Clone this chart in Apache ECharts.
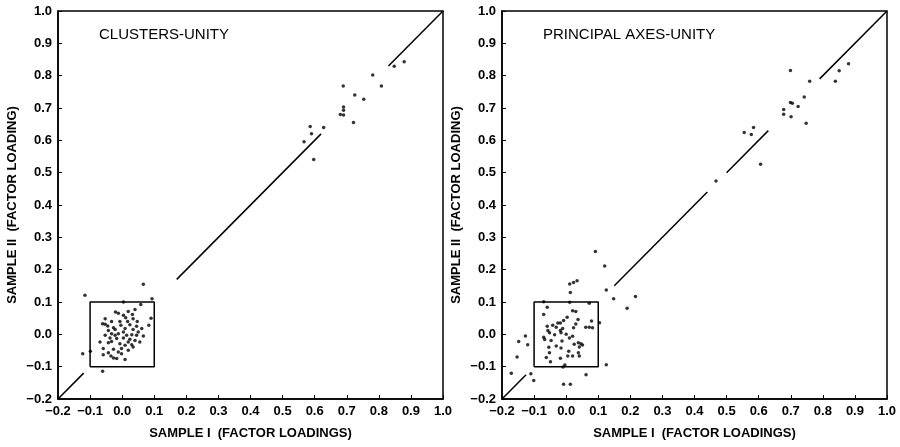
<!DOCTYPE html>
<html><head><meta charset="utf-8">
<script src="https://cdn.jsdelivr.net/npm/echarts@6/dist/echarts.min.js"></script>
<style>html,body{margin:0;padding:0;background:#fff}#c{width:900px;height:447px}</style>
</head><body><div id="c"></div><script>
const panelTitles = ['CLUSTERS-UNITY', 'PRINCIPAL AXES-UNITY'];
const xAxisTitle = 'SAMPLE I  (FACTOR LOADINGS)';
const yAxisTitle = 'SAMPLE II  (FACTOR LOADING)';
const axisMin = -0.2, axisMax = 1.0, axisStep = 0.1;
const boxLow = -0.1, boxHigh = 0.1;
// y = x reference line, drawn as segments [from, to]
const leftDiagonal = [[-0.2, -0.12], [0.17, 0.62], [0.83, 1.0]];
const rightDiagonal = [[-0.2, -0.125], [0.15, 0.44], [0.50, 0.63], [0.79, 1.0]];

const leftPoints = [
 [0.848,0.829],[0.879,0.843],[0.781,0.802],[0.808,0.768],[0.689,0.768],[0.725,0.740],[0.753,0.727],[0.690,0.703],[0.690,0.693],[0.680,0.680],[0.690,0.678],[0.721,0.655],[0.586,0.643],[0.628,0.640],[0.590,0.620],[0.567,0.596],[0.597,0.541],
 [0.066,0.155],[-0.116,0.121],[0.093,0.110],[-0.123,-0.060],[-0.099,-0.052],[-0.061,-0.114],[0.090,0.050],[0.083,0.028],
 [0.004,0.100],[0.058,0.092],[0.040,0.077],[0.019,0.071],[-0.021,0.069],[-0.012,0.065],[0.004,0.059],[0.032,0.061],[0.011,0.051],[0.034,0.048],[-0.033,0.040],[0.017,0.040],[0.047,0.040],[-0.061,0.033],[-0.053,0.031],[-0.004,0.028],[0.024,0.030],[0.045,0.025],[-0.027,0.020],[-0.022,0.015],[-0.043,0.012],[0.009,0.018],[0.034,0.015],[0.050,0.007],[-0.033,0.002],[-0.053,-0.003],[-0.012,0.002],[0.014,-0.003],[0.030,-0.001],[-0.038,-0.011],[-0.017,-0.013],[0.004,-0.011],[0.024,-0.015],[0.040,-0.019],[0.055,-0.024],[-0.069,-0.024],[-0.043,-0.026],[-0.007,-0.029],[0.009,-0.034],[0.030,-0.032],[-0.059,-0.044],[-0.027,-0.046],[-0.002,-0.044],[0.019,-0.049],[-0.012,-0.055],[-0.043,-0.057],[-0.059,-0.063],[-0.035,-0.067],[-0.027,-0.073],[-0.017,-0.075],[0.009,-0.078],[-0.007,0.040],[-0.045,0.026],[0.004,0.007],[0.019,-0.024],[0.045,-0.003],[-0.022,-0.003],[-0.002,-0.060],[0.034,-0.039],[-0.033,-0.022],[0.061,0.018],[-0.053,0.048],[0.066,-0.005]
];

const rightPoints = [
 [0.880,0.837],[0.851,0.815],[0.839,0.783],[0.699,0.816],[0.759,0.783],[0.742,0.734],[0.699,0.717],[0.705,0.715],[0.723,0.705],[0.678,0.695],[0.678,0.681],[0.701,0.673],[0.748,0.653],[0.555,0.624],[0.584,0.640],[0.577,0.618],[0.606,0.526],[0.467,0.474],
 [0.091,0.256],[0.120,0.211],[0.011,0.156],[0.023,0.160],[0.034,0.166],[0.013,0.129],[0.125,0.137],[0.148,0.110],[0.190,0.081],[0.216,0.117],[0.125,-0.094],[0.062,-0.125],[-0.008,-0.154],[0.013,-0.154],[-0.101,-0.143],[-0.110,-0.122],[-0.171,-0.120],[-0.153,-0.070],[-0.148,-0.022],[-0.127,-0.005],[-0.120,-0.032],[-0.070,0.101],[0.011,0.099],[0.072,0.096],[-0.010,-0.101],[0.104,0.036],
 [-0.059,0.084],[0.020,0.073],[0.030,0.071],[-0.070,0.061],[0.003,0.053],[0.037,0.046],[0.079,0.041],[-0.026,0.035],[-0.018,0.035],[-0.008,0.043],[-0.042,0.028],[-0.059,0.025],[-0.031,0.022],[0.030,0.032],[0.061,0.022],[0.072,0.022],[0.082,0.020],[-0.011,0.018],[-0.018,0.012],[-0.057,0.012],[-0.052,0.005],[0.023,0.020],[0.000,0.000],[-0.016,0.005],[-0.036,-0.001],[-0.070,-0.009],[-0.067,-0.016],[-0.047,-0.019],[0.010,-0.011],[0.020,-0.006],[-0.013,-0.021],[0.038,-0.026],[0.046,-0.029],[0.051,-0.033],[0.041,-0.039],[0.025,-0.031],[-0.031,-0.036],[-0.054,-0.040],[0.008,-0.052],[-0.016,-0.042],[0.038,-0.057],[-0.052,-0.057],[-0.062,-0.072],[0.005,-0.067],[0.020,-0.067],[-0.018,-0.074],[0.041,-0.067],[-0.049,-0.085],[-0.004,-0.095]
];

const FONT = '"Liberation Sans", Arial, sans-serif';
const fmt = v => (v < -1e-9 ? '\u2212' : '') + Math.abs(v).toFixed(1);
const gridLefts = [58, 502];

const grids = gridLefts.map(l => ({left: l, top: 11, width: 385, height: 388, show: true, borderColor: '#000', borderWidth: 1.5}));
const axisCommon = {
  type: 'value', min: axisMin, max: axisMax, interval: axisStep,
  splitLine: {show: false},
  axisLine: {show: true, onZero: false, lineStyle: {color: '#000', width: 1.5}},
  axisTick: {show: true, inside: true, length: 4, lineStyle: {color: '#000', width: 1}},
};
const xAxes = [0, 1].map(i => Object.assign({}, axisCommon, {
  gridIndex: i, name: xAxisTitle, nameLocation: 'middle', nameGap: 28,
  nameTextStyle: {color: '#000', fontFamily: FONT, fontSize: 13, fontWeight: 'bold'},
  axisLabel: {color: '#000', fontFamily: FONT, fontSize: 13, fontWeight: 'bold', margin: 6, formatter: fmt}
}));
const yAxes = [0, 1].map(i => Object.assign({}, axisCommon, {
  gridIndex: i, name: yAxisTitle, nameLocation: 'middle', nameGap: 39,
  nameTextStyle: {color: '#000', fontFamily: FONT, fontSize: 13, fontWeight: 'bold'},
  axisLabel: {color: '#000', fontFamily: FONT, fontSize: 13, fontWeight: 'bold', margin: 6, formatter: fmt}
}));

const series = [];
[leftDiagonal, rightDiagonal].forEach((segs, i) => {
  segs.forEach(s => series.push({
    type: 'line', xAxisIndex: i, yAxisIndex: i, data: [[s[0], s[0]], [s[1], s[1]]],
    showSymbol: false, silent: true, lineStyle: {color: '#000', width: 1.5}
  }));
  series.push({
    type: 'line', xAxisIndex: i, yAxisIndex: i, showSymbol: false, silent: true,
    data: [[boxLow, boxLow], [boxHigh, boxLow], [boxHigh, boxHigh], [boxLow, boxHigh], [boxLow, boxLow]],
    lineStyle: {color: '#000', width: 1.5}
  });
});
[leftPoints, rightPoints].forEach((pts, i) => series.push({
  type: 'scatter', xAxisIndex: i, yAxisIndex: i, data: pts, symbol: 'circle', symbolSize: 3.5,
  itemStyle: {color: '#000'}, silent: true
}));

const chart = echarts.init(document.getElementById('c'), null, {renderer: 'canvas'});
chart.setOption({
  animation: false,
  backgroundColor: '#fff',
  title: [
    {text: panelTitles[0], left: 94, top: 22, textStyle: {color: '#000', fontFamily: FONT, fontSize: 15, fontWeight: 'normal'}},
    {text: panelTitles[1], left: 538, top: 22, textStyle: {color: '#000', fontFamily: FONT, fontSize: 15, fontWeight: 'normal'}}
  ],
  grid: grids, xAxis: xAxes, yAxis: yAxes, series: series
});
</script></body></html>
